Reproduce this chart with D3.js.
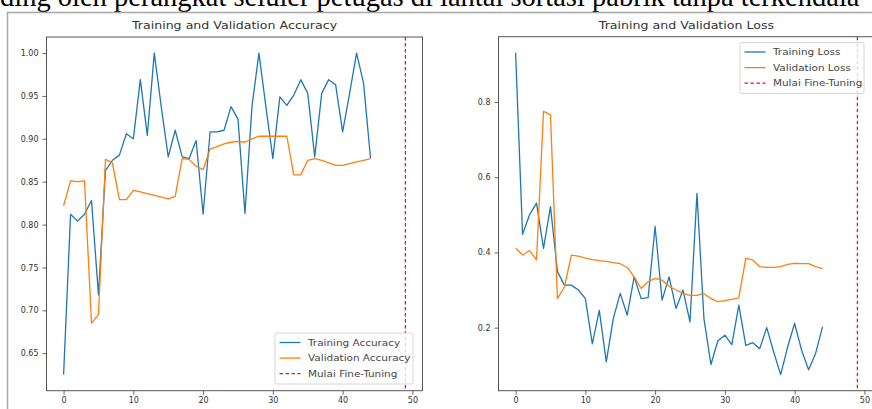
<!DOCTYPE html>
<html>
<head>
<meta charset="utf-8">
<script src="https://cdn.jsdelivr.net/npm/d3@7"></script>
<style>
  body { margin: 0; background: #fff; }
  svg { display: block; }
  .tick text { font-family: "DejaVu Sans", sans-serif; fill: #333; }
</style>
</head>
<body>
<svg id="chart" width="872" height="409"></svg>
<script>
// epochs 0..44
let epochs = d3.range(45);

let trainAcc = [0.625, 0.812, 0.804, 0.812, 0.828, 0.718, 0.863, 0.875, 0.881, 0.906,
    0.900, 0.969, 0.904, 1.000, 0.9375, 0.879, 0.910, 0.879, 0.877, 0.898,
    0.812, 0.908, 0.908, 0.910, 0.9375, 0.923, 0.813, 0.9375, 1.000, 0.9375,
    0.877, 0.949, 0.939, 0.951, 0.969, 0.953, 0.879, 0.953, 0.969, 0.963,
    0.908, 0.953, 1.000, 0.965, 0.877];

let valAcc = [0.822, 0.851, 0.850, 0.851, 0.685, 0.695, 0.876, 0.872, 0.829, 0.829,
    0.840, 0.838, 0.836, 0.834, 0.832, 0.830, 0.833, 0.877, 0.876, 0.868,
    0.864, 0.888, 0.891, 0.894, 0.896, 0.897, 0.896, 0.900, 0.903, 0.903,
    0.903, 0.903, 0.903, 0.858, 0.858, 0.875, 0.877, 0.875, 0.872, 0.869,
    0.869, 0.871, 0.873, 0.875, 0.877];

let trainLoss = [0.931, 0.448, 0.500, 0.531, 0.411, 0.522, 0.349, 0.313, 0.313, 0.300,
    0.277, 0.157, 0.246, 0.109, 0.224, 0.291, 0.233, 0.335, 0.277, 0.280,
    0.469, 0.273, 0.335, 0.251, 0.300, 0.215, 0.557, 0.224, 0.102, 0.165,
    0.180, 0.155, 0.260, 0.153, 0.160, 0.144, 0.200, 0.135, 0.075, 0.149,
    0.211, 0.140, 0.088, 0.131, 0.202];

let valLoss = [0.411, 0.393, 0.405, 0.380, 0.775, 0.766, 0.277, 0.308, 0.393, 0.390,
    0.385, 0.381, 0.378, 0.376, 0.373, 0.370, 0.360, 0.335, 0.304, 0.322,
    0.331, 0.326, 0.310, 0.300, 0.291, 0.286, 0.286, 0.291, 0.277, 0.269,
    0.272, 0.275, 0.279, 0.384, 0.380, 0.362, 0.360, 0.360, 0.362, 0.368,
    0.371, 0.370, 0.370, 0.362, 0.357];

let fineTuneEpoch = 49;

let accTicks = [0.65, 0.70, 0.75, 0.80, 0.85, 0.90, 0.95, 1.00];
let lossTicks = [0.2, 0.4, 0.6, 0.8];
let epochTicks = [0, 10, 20, 30, 40, 50];

let accLabels = ["Training Accuracy", "Validation Accuracy", "Mulai Fine-Tuning"];
let lossLabels = ["Training Loss", "Validation Loss", "Mulai Fine-Tuning"];

let blue = "#1f77b4", orange = "#ff7f0e", red = "#f0141e";

let svg = d3.select("#chart");

// the pasted figure is a bit wider than tall, so widen text a little
function stretch(sel, k) {
    sel.each(function() {
        let len = this.getComputedTextLength();
        d3.select(this).attr("textLength", len * k).attr("lengthAdjust", "spacingAndGlyphs");
    });
}

// text of the document above the figure (cut off at the top)
svg.append("text")
    .attr("x", 0).attr("y", 5.5)
    .attr("font-family", "Liberation Serif, serif")
    .attr("font-size", 28.5)
    .attr("fill", "#000")
    .text("ding oleh perangkat seluler petugas di lantai sortasi pabrik tanpa terkendala");

// grey frame of the pasted image
svg.append("rect")
    .attr("x", 7.5).attr("y", 12.5)
    .attr("width", 900).attr("height", 420)
    .attr("fill", "#fff")
    .attr("stroke", "#a8a8a8")
    .attr("stroke-width", 1.5);

// matplotlib style 5% margin on the data range
function padded(lo, hi) {
    let m = (hi - lo) * 0.05;
    return [lo - m, hi + m];
}

function drawPanel(opts) {
    let g = svg.append("g");
    let x = d3.scaleLinear().domain(padded(0, fineTuneEpoch)).range([opts.left, opts.right]);
    let lo = d3.min(opts.series.flat()), hi = d3.max(opts.series.flat());
    let y = d3.scaleLinear().domain(padded(lo, hi)).range([opts.bottom, opts.top]);

    // lines
    let line = d3.line().x((d, i) => x(epochs[i])).y(d => y(d));
    opts.series.forEach((s, k) => {
        g.append("path")
            .datum(s)
            .attr("d", line)
            .attr("fill", "none")
            .attr("stroke", k == 0 ? blue : orange)
            .attr("stroke-width", 1.3)
            .attr("stroke-linejoin", "round");
    });

    // fine tuning marker
    g.append("line")
        .attr("x1", x(fineTuneEpoch)).attr("x2", x(fineTuneEpoch))
        .attr("y1", opts.top).attr("y2", opts.bottom)
        .attr("stroke", red)
        .attr("stroke-width", 1.3)
        .attr("stroke-dasharray", "3.5,2.5");

    // axes
    let xAxis = g.append("g")
        .attr("transform", `translate(0,${opts.bottom})`)
        .call(d3.axisBottom(x).tickValues(epochTicks).tickSize(4).tickPadding(3));
    let yAxis = g.append("g")
        .attr("transform", `translate(${opts.left},0)`)
        .call(d3.axisLeft(y).tickValues(opts.ticks).tickFormat(d3.format(opts.fmt)).tickSize(4).tickPadding(4));
    [xAxis, yAxis].forEach(a => {
        a.select(".domain").remove();
        a.selectAll(".tick line").attr("stroke", "#555").attr("stroke-width", 0.9);
        a.selectAll(".tick text").attr("font-size", 8).attr("fill", "#555");
    });

    // frame
    g.append("rect")
        .attr("x", opts.left).attr("y", opts.top)
        .attr("width", opts.right - opts.left).attr("height", opts.bottom - opts.top)
        .attr("fill", "none")
        .attr("stroke", "#555")
        .attr("stroke-width", 1);

    // title
    let title = g.append("text")
        .attr("x", (opts.left + opts.right) / 2).attr("y", 29)
        .attr("text-anchor", "middle")
        .attr("font-family", "DejaVu Sans, sans-serif")
        .attr("font-size", 10.5)
        .attr("fill", "#333")
        .text(opts.title);
    stretch(title, 1.2);

    // legend
    let lg = g.append("g").attr("transform", `translate(${opts.legend[0]},${opts.legend[1]})`);
    lg.append("rect")
        .attr("width", opts.legend[2]).attr("height", 51)
        .attr("rx", 2)
        .attr("fill", "#fff").attr("fill-opacity", 0.8)
        .attr("stroke", "#d6d6d6");
    let rows = lg.selectAll("g.row")
        .data(opts.labels)
        .enter().append("g")
        .attr("class", "row")
        .attr("transform", (d, i) => `translate(0,${9.5 + i * 15.6})`);
    rows.append("line")
        .attr("x1", 4.5).attr("x2", 25.5)
        .attr("stroke", (d, i) => [blue, orange, red][i])
        .attr("stroke-width", 1.3)
        .attr("stroke-dasharray", (d, i) => i == 2 ? "3.5,2.5" : null);
    let labels = rows.append("text")
        .attr("x", 33).attr("y", 3.2)
        .attr("font-family", "DejaVu Sans, sans-serif")
        .attr("font-size", 9)
        .attr("fill", "#444")
        .text(d => d);
    stretch(labels, 1.16);
}

drawPanel({
    left: 46.5, right: 422.5, top: 37, bottom: 390.7,
    series: [trainAcc, valAcc],
    ticks: accTicks, fmt: ".2f",
    title: "Training and Validation Accuracy",
    labels: accLabels,
    legend: [275, 333, 138]
});

drawPanel({
    left: 498.5, right: 874.5, top: 36.7, bottom: 390.7,
    series: [trainLoss, valLoss],
    ticks: lossTicks, fmt: ".1f",
    title: "Training and Validation Loss",
    labels: lossLabels,
    legend: [740, 42.5, 124]
});
</script>
</body>
</html>
